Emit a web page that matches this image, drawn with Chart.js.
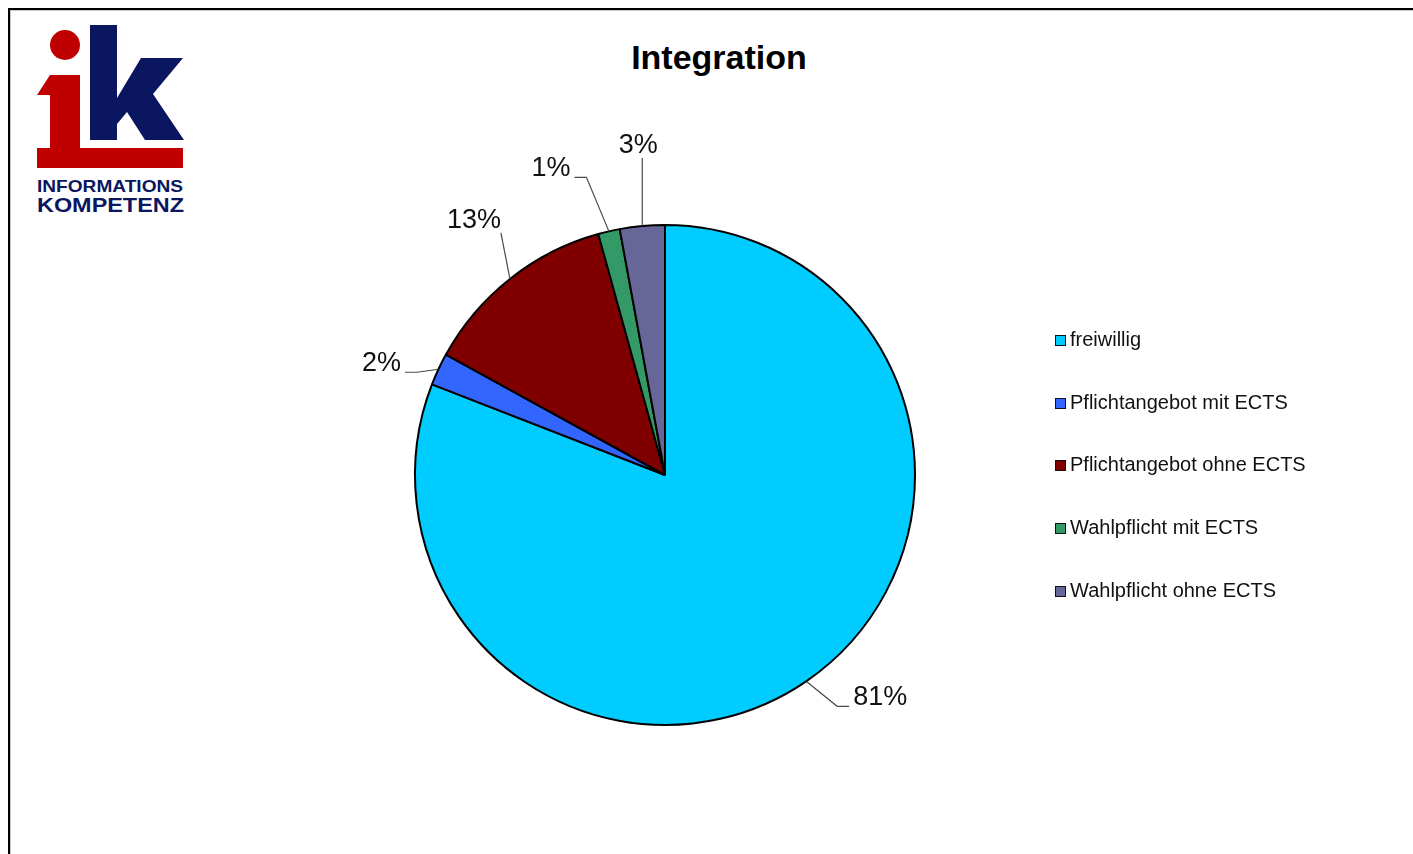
<!DOCTYPE html>
<html>
<head>
<meta charset="utf-8">
<script src="https://cdn.jsdelivr.net/npm/chart.js@4.4.1/dist/chart.umd.min.js"></script>
<style>
  html, body { margin: 0; padding: 0; background: #fff; overflow: hidden; }
  body { width: 1413px; height: 854px; position: relative; font-family: "Liberation Sans", Arial, sans-serif; }
  #frame { position: absolute; left: 8px; top: 8px; width: 1420px; height: 860px;
           border-left: 2px solid #000; border-top: 2px solid #000; box-sizing: border-box; }
  #frame::after { content: ""; position: absolute; left: 0; top: 0; right: 0; bottom: 0;
           border-left: 1px solid #c8c8c8; border-top: 1px solid #c8c8c8; }
  #logo { position: absolute; left: 0; top: 0; }
  #title { position: absolute; left: 0; width: 1438px; top: 38px; text-align: center;
           font-weight: bold; font-size: 34px; color: #000; }
  #chart { position: absolute; left: 0; top: 0; }
  #legend { position: absolute; left: 1055px; top: 328px; }
  .item { height: 62.7px; display: flex; align-items: flex-start; font-size: 20px; color: #111; }
  .box { width: 9px; height: 9px; border: 1.5px solid #111; margin-top: 7px; margin-right: 4px; flex: none; }
</style>
</head>
<body>
<div id="frame"></div>
<svg id="logo" width="220" height="230" viewBox="0 0 220 230">
  <circle cx="65" cy="45" r="15" fill="#c00000"/>
  <polygon points="37,95 50,75 80,75 80,150 50,150 50,95" fill="#c00000"/>
  <rect x="37" y="148" width="146" height="20" fill="#c00000"/>
  <rect x="90" y="25" width="27" height="115" fill="#0b1660"/>
  <polygon points="117,98 141,58 183,58 153,94 184,140 145,140 127,112 117,124" fill="#0b1660"/>
  <text x="37" y="192" font-family="Liberation Sans, Arial" font-weight="bold" font-size="16.5" fill="#0b1660" textLength="146" lengthAdjust="spacingAndGlyphs">INFORMATIONS</text>
  <text x="37" y="212" font-family="Liberation Sans, Arial" font-weight="bold" font-size="20" fill="#0b1660" textLength="147" lengthAdjust="spacingAndGlyphs">KOMPETENZ</text>
</svg>
<div id="title">Integration</div>
<canvas id="chart" width="1413" height="854"></canvas>
<div id="legend"></div>
<script>
const categories = ['freiwillig', 'Pflichtangebot mit ECTS', 'Pflichtangebot ohne ECTS', 'Wahlpflicht mit ECTS', 'Wahlpflicht ohne ECTS'];
const shares = [80.9, 2.1, 12.7, 1.4, 2.9];
const colors = ['#00ccff', '#3366ff', '#800000', '#339966', '#666699'];

// where each percentage label sits, relative to the point where its slice meets the rim
const labelOffsets = [[74, 16], [-57, -6], [-36, -58], [-58, -63], [-4, -80]];

const legend = document.getElementById('legend');
categories.forEach(function(name, i) {
    const row = document.createElement('div');
    row.className = 'item';
    row.innerHTML = '<span class="box" style="background:' + colors[i] + '"></span><span>' + name + '</span>';
    legend.appendChild(row);
});

const pieLabels = {
    id: 'pieLabels',
    afterDatasetsDraw(chart) {
        const ctx = chart.ctx;
        const meta = chart.getDatasetMeta(0);
        const values = chart.data.datasets[0].data;
        const total = values.reduce(function(a, b) { return a + b; }, 0);
        ctx.save();
        ctx.font = '27px "Liberation Sans", Arial, sans-serif';
        ctx.textAlign = 'center';
        ctx.textBaseline = 'middle';
        meta.data.forEach(function(arc, i) {
            const mid = (arc.startAngle + arc.endAngle) / 2;
            const ex = arc.x + Math.cos(mid) * arc.outerRadius;
            const ey = arc.y + Math.sin(mid) * arc.outerRadius;
            const cx = ex + labelOffsets[i][0];
            const cy = ey + labelOffsets[i][1];
            const text = Math.round(values[i] / total * 100) + '%';
            const w = ctx.measureText(text).width;
            const dx = ex - cx;

            ctx.strokeStyle = '#4a4a4a';
            ctx.lineWidth = 1.2;
            ctx.beginPath();
            if (Math.abs(dx) > w / 2 + 10) {
                const side = dx > 0 ? 1 : -1;
                const ax = cx + side * (w / 2 + 4);
                const ay = cy + 9;
                ctx.moveTo(ax, ay);
                ctx.lineTo(ax + side * 12, ay);
                ctx.lineTo(ex, ey);
            } else {
                const ax = Math.max(cx - w / 2, Math.min(cx + w / 2, ex));
                ctx.moveTo(ax, cy + 12);
                ctx.lineTo(ex, ey);
            }
            ctx.stroke();

            ctx.fillStyle = '#111';
            ctx.fillText(text, cx, cy);
        });
        ctx.restore();
    }
};

new Chart(document.getElementById('chart'), {
    type: 'pie',
    data: {
        labels: categories,
        datasets: [{
            data: shares,
            backgroundColor: colors,
            borderColor: '#000',
            borderWidth: 2
        }]
    },
    options: {
        responsive: false,
        animation: false,
        layout: { padding: { left: 414, right: 497, top: 224, bottom: 128 } },
        plugins: {
            legend: { display: false },
            tooltip: { enabled: false }
        }
    },
    plugins: [pieLabels]
});
</script>
</body>
</html>
